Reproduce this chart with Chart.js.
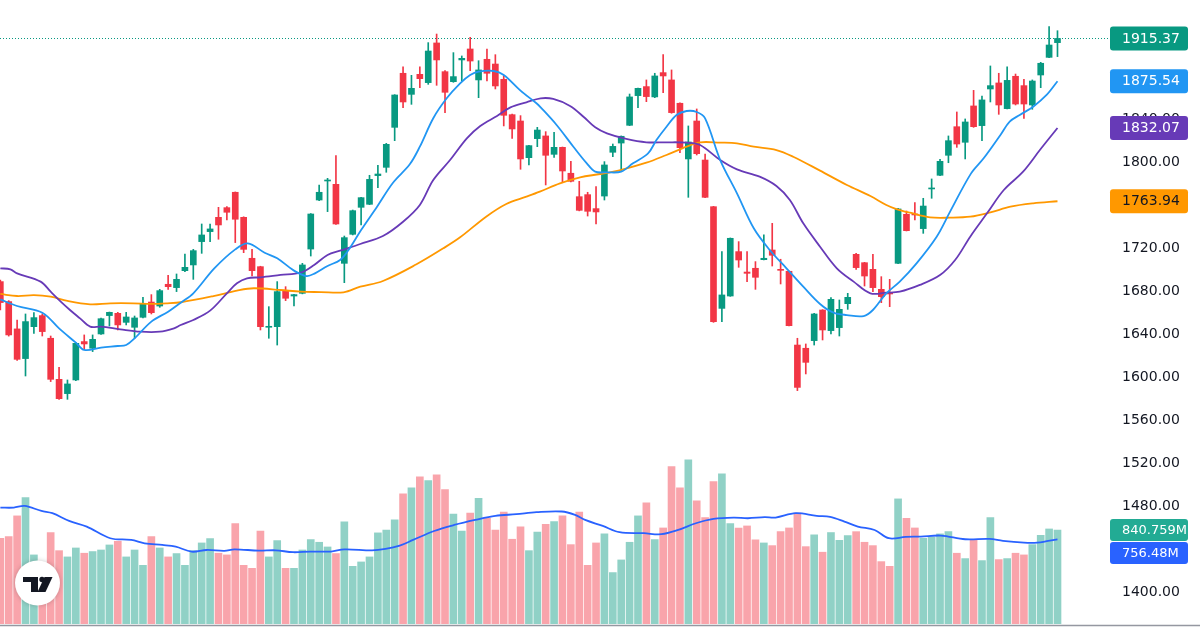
<!DOCTYPE html>
<html>
<head>
<meta charset="utf-8">
<script src="https://cdn.jsdelivr.net/npm/chart.js@4.4.1/dist/chart.umd.min.js"></script>
<style>
  html, body { margin: 0; padding: 0; background: #fff; }
</style>
</head>
<body>
<canvas id="chart" width="1200" height="630"></canvas>
<script>
// daily candles, oldest first
const opens = [1689.2,1670.6,1645.2,1617.6,1647.3,1657.6,1636.5,1598.3,1585.0,1597.7,
  1633.4,1627.2,1640.5,1657.6,1659.7,1651.3,1646.7,1656.0,1670.2,1666.5,
  1686.7,1683.6,1699.4,1704.7,1726.4,1735.7,1749.0,1758.0,1772.3,1749.0,
  1710.9,1703.1,1646.7,1647.3,1680.8,1675.8,1678.3,1719.5,1765.1,1782.8,
  1779.7,1706.2,1733.2,1758.3,1761.1,1787.8,1795.5,1832.7,1883.0,1863.4,
  1882.0,1874.3,1911.2,1884.5,1875.2,1895.4,1905.6,1876.8,1896.0,1891.6,
  1877.4,1844.5,1838.6,1804.5,1822.2,1824.7,1807.6,1814.1,1790.0,1768.2,
  1770.1,1757.1,1768.8,1809.5,1818.1,1834.6,1862.2,1870.6,1861.0,1883.6,
  1876.8,1855.1,1803.3,1838.6,1802.3,1758.9,1664.3,1675.8,1717.1,1698.1,
  1701.6,1709.6,1718.6,1700.6,1698.8,1630.2,1627.2,1634.3,1662.8,1643.6,
  1646.4,1668.7,1714.6,1706.8,1700.6,1682.0,1678.3,1706.2,1751.8,1752.1,
  1738.5,1775.4,1788.1,1806.7,1833.3,1818.8,1852.6,1834.3,1868.4,1874.0,
  1850.1,1880.2,1871.5,1853.5,1881.4,1897.8,1911.5];
const highs = [1690.7,1671.5,1653.5,1659.1,1660.3,1659.1,1638.6,1609.5,1597.7,1632.4,
  1639.6,1639.6,1655.3,1660.9,1660.6,1660.6,1657.2,1674.6,1677.1,1682.0,
  1695.0,1696.3,1714.9,1719.2,1742.8,1742.8,1758.3,1758.9,1772.6,1749.5,
  1719.2,1703.5,1665.9,1689.2,1684.5,1677.3,1706.2,1752.5,1779.1,1785.3,
  1806.4,1731.6,1755.8,1767.6,1788.1,1797.4,1817.8,1863.1,1888.9,1881.1,
  1888.9,1911.5,1919.5,1885.4,1902.2,1899.1,1916.4,1894.7,1905.6,1900.3,
  1880.8,1845.1,1843.6,1815.9,1832.7,1828.7,1828.1,1814.4,1801.1,1782.5,
  1772.3,1777.5,1800.8,1817.2,1824.7,1863.7,1869.3,1876.8,1883.0,1900.3,
  1886.1,1855.4,1834.0,1849.8,1807.9,1759.2,1717.1,1729.8,1726.4,1717.1,
  1707.8,1732.6,1743.4,1710.0,1699.1,1636.5,1631.2,1659.7,1663.1,1674.3,
  1672.1,1678.3,1715.5,1707.1,1714.6,1693.8,1691.3,1757.4,1754.9,1762.6,
  1766.7,1784.7,1803.0,1824.7,1847.0,1840.5,1867.1,1861.9,1889.8,1883.0,
  1888.9,1882.3,1877.4,1876.8,1893.2,1926.4,1922.6];
const lows = [1662.8,1638.5,1615.9,1601.4,1641.1,1638.6,1596.2,1579.5,1579.7,1597.1,
  1626.2,1624.1,1640.0,1647.9,1644.2,1648.9,1636.5,1655.5,1659.1,1665.3,
  1682.0,1679.9,1698.5,1691.3,1715.5,1726.4,1728.6,1746.5,1725.5,1716.1,
  1694.4,1644.2,1636.5,1630.2,1671.5,1666.5,1677.8,1713.0,1764.6,1754.3,
  1742.3,1688.2,1732.6,1741.9,1760.8,1776.6,1790.9,1820.3,1851.0,1854.1,
  1869.6,1872.7,1871.8,1846.4,1874.6,1875.8,1885.4,1860.3,1875.8,1868.4,
  1834.0,1822.5,1793.7,1797.7,1814.7,1779.1,1804.8,1781.2,1781.9,1755.0,
  1750.2,1742.8,1765.1,1805.4,1792.4,1834.3,1851.0,1856.6,1860.3,1865.0,
  1845.8,1809.2,1767.6,1807.0,1767.3,1651.3,1651.9,1675.5,1702.5,1689.2,
  1682.0,1709.3,1703.7,1687.0,1647.9,1587.8,1603.3,1630.2,1634.9,1640.5,
  1638.6,1663.4,1700.6,1685.1,1679.9,1669.6,1665.9,1705.9,1736.3,1746.5,
  1734.1,1766.7,1787.8,1799.8,1814.1,1803.3,1832.7,1820.3,1856.3,1844.8,
  1849.8,1853.5,1841.1,1849.5,1869.6,1897.5,1898.5];
const closes = [1669.7,1639.6,1616.9,1652.0,1655.7,1642.7,1598.3,1580.3,1594.0,1631.8,
  1631.2,1635.5,1654.7,1660.6,1648.9,1656.3,1655.4,1668.4,1660.3,1680.8,
  1684.5,1691.3,1702.5,1718.0,1732.6,1738.2,1741.9,1753.7,1747.2,1719.2,
  1699.4,1647.3,1647.3,1679.9,1673.7,1677.1,1704.7,1752.1,1772.3,1783.7,
  1742.8,1730.1,1755.2,1767.3,1784.3,1789.3,1816.9,1862.8,1856.3,1869.0,
  1878.0,1903.7,1895.4,1865.3,1879.9,1896.9,1894.4,1886.1,1883.0,1871.2,
  1843.9,1831.2,1803.3,1815.7,1830.2,1806.7,1814.1,1792.1,1782.5,1755.5,
  1754.6,1754.0,1797.7,1815.0,1824.4,1861.0,1869.0,1861.3,1880.5,1880.5,
  1846.4,1813.8,1819.1,1808.2,1767.6,1651.9,1676.8,1729.5,1709.3,1696.9,
  1693.2,1710.9,1713.7,1699.7,1648.2,1590.8,1614.1,1659.1,1644.2,1672.7,
  1663.4,1674.6,1702.2,1694.4,1683.6,1675.2,1677.7,1756.8,1736.6,1751.2,
  1759.5,1776.3,1801.1,1820.3,1817.2,1837.7,1833.3,1858.2,1871.5,1853.5,
  1876.4,1854.4,1854.4,1875.8,1892.3,1909.3,1915.37];
// volume in millions
const volumes = [767,782,967,1131,618,540,818,656,600,680,
  633,648,662,707,740,600,662,525,782,680,
  600,630,525,656,725,764,633,618,898,525,
  498,832,600,746,498,498,662,755,731,689,
  630,913,516,555,600,815,841,931,1164,1217,
  1316,1283,1334,1202,982,832,991,1125,946,841,
  1000,758,868,656,823,892,916,967,710,1000,
  525,725,806,460,573,731,967,1083,755,859,
  1408,1217,1468,1101,952,1274,1343,898,859,877,
  752,725,701,826,859,991,692,797,642,818,
  749,791,826,731,701,558,516,1119,946,859,
  767,776,806,826,633,585,758,567,952,576,
  585,633,618,710,794,850,840.759];

// moving averages: [bar index, value]
const maFast = [[0,1672.7],[2,1666.5],[5,1660.3],[7,1645.7],[9,1632.4],[10,1625.6],[12,1627.7],[14,1629.3],[15,1630.2],[16,1636.4],
  [18,1652.0],[20,1661.2],[21.5,1669.6],[23,1678.3],[25.5,1701.5],[28,1719.2],[29.5,1724.8],[31.5,1716.1],[33,1710.9],[35,1699.4],
  [36.5,1694.4],[37.5,1696.9],[39,1703.7],[40.5,1709.3],[41.5,1718.6],[43,1737.2],[44.9,1758.9],[46.8,1781.2],[48.8,1798.3],[50,1814.7],
  [51.6,1841.2],[53.2,1859.7],[54.8,1873.6],[56,1881.4],[57,1884.5],[58.8,1885.1],[60,1881.4],[62,1866.8],[63.9,1855.1],[64.4,1851.3],
  [66.3,1834.9],[68.3,1814.7],[69.9,1799.2],[70.9,1791.5],[72.3,1790.9],[74,1791.5],[75.4,1799.2],[77.2,1808.5],[78.2,1820.9],[79.4,1833.3],
  [80.6,1844.2],[81.8,1847.9],[83,1847.0],[84,1841.1],[85.8,1802.3],[87.8,1771.3],[89.8,1738.8],[91.7,1718.6],[93.7,1701.6],[95.7,1684.5],
  [97.7,1668.4],[99.3,1660.3],[100.9,1658.1],[102.9,1657.2],[104,1662.8],[105.6,1678.3],[107.2,1689.2],[109.2,1706.2],[111.6,1731.0],[113.2,1754.3],
  [115.7,1789.9],[117.2,1803.9],[119.2,1825.6],[120.3,1838.0],[121.5,1844.2],[123.1,1851.9],[124.7,1862.8],[126,1875.54]];
const maMid = [[0,1701.6],[1.2,1700.6],[2,1696.9],[4.8,1689.2],[6,1679.8],[7.2,1670.6],[8.3,1662.8],[9.5,1655.0],[10.7,1647.3],[12,1647.3],
  [14.3,1644.8],[16.7,1642.6],[19,1642.6],[20.7,1645.7],[21.5,1648.8],[23,1653.5],[25,1662.2],[27,1678.3],[28.2,1687.6],[29.4,1692.3],
  [31,1693.2],[33.4,1695.4],[35.8,1697.5],[37.4,1704.7],[39,1714.0],[40.5,1718.0],[42.9,1724.2],[45.6,1731.6],[48,1744.9],[50,1760.5],
  [51.6,1783.7],[53.6,1802.3],[55.6,1822.5],[57.2,1834.0],[59.2,1843.3],[60.8,1851.3],[62.7,1856.0],[64.4,1859.7],[65.9,1859.1],[67.9,1852.6],
  [69.5,1842.6],[70.9,1832.7],[72.3,1827.1],[74.6,1821.9],[77,1818.8],[79.4,1818.8],[81.8,1818.5],[83.4,1816.3],[85.8,1802.3],[87.8,1793.6],
  [90.5,1786.8],[92.5,1778.1],[94.1,1765.1],[95.7,1743.4],[97.7,1721.7],[99.7,1701.6],[101.7,1689.2],[103.7,1678.3],[105.6,1678.9],[107.2,1679.8],
  [109.6,1686.1],[112,1695.3],[113.8,1709.3],[115.6,1731.0],[117.6,1752.7],[119.6,1774.4],[121.9,1791.5],[123.9,1811.6],[126,1832.07]];
const maSlow = [[0,1677.7],[2,1675.8],[4,1676.7],[6,1675.2],[8,1671.2],[10.7,1668.1],[13.1,1669.0],[15.9,1669.0],[17.9,1668.4],[19.9,1669.0],
  [21.5,1670.0],[25.4,1675.8],[28.2,1680.8],[30.2,1683.0],[33.4,1681.4],[35.8,1679.8],[38.2,1679.5],[40.9,1679.2],[42.9,1684.5],[45.6,1689.8],
  [49.6,1705.3],[52.8,1720.2],[54.8,1730.4],[57.9,1749.6],[60.3,1761.4],[62.7,1768.2],[64.3,1772.9],[66.7,1780.6],[69.1,1786.2],[71.5,1789.3],
  [73.9,1793.0],[77,1799.8],[79.4,1807.0],[81.8,1814.7],[83.4,1818.8],[85.8,1818.5],[87.8,1817.8],[89.8,1814.7],[92.5,1811.6],[94.5,1805.4],
  [97.7,1792.4],[100.9,1779.1],[103.7,1768.8],[105.6,1760.5],[106.8,1756.7],[108.4,1753.3],[110.8,1749.0],[113.2,1748.7],[115.6,1749.6],[118,1753.6],
  [120.4,1758.9],[123.1,1762.0],[126,1763.94]];
const volMa = [[0,1041],[1.6,1041],[2.9,1056],[4.9,1011],[6.2,991],[8.2,922],[10.3,871],[13.1,767],[15.6,752],[17.2,722],
  [19.3,707],[20.9,692],[22.8,647],[24.6,662],[26.7,654],[27.9,668],[30.8,656],[32.8,659],[34.9,642],[36.9,648],
  [39.4,648],[41,668],[44.3,659],[45.9,671],[47.6,701],[49.2,752],[51.7,832],[54.1,886],[56.6,931],[59,967],
  [61.5,982],[63.9,1000],[66.9,1006],[68.5,976],[69.7,931],[71.8,877],[73.8,821],[76.7,812],[78.8,803],[80.8,841],
  [82.9,901],[85,940],[87.4,952],[89.1,946],[91.1,955],[92.4,952],[94.8,991],[97.3,967],[98.9,958],[100.6,916],
  [102.2,871],[104.2,841],[105.9,767],[107.9,779],[109.7,782],[112.1,791],[115,758],[117.9,761],[119.5,743],[122,728],
  [123.6,728],[124.9,743],[126,756.48]];

const priceTicks = [1400,1440,1480,1520,1560,1600,1640,1680,1720,1760,1800,1840,1880,1920];

const UP = '#089981';
const DOWN = '#F23645';
const UP_VOL = 'rgba(8,153,129,0.45)';
const DOWN_VOL = 'rgba(242,54,69,0.45)';
const FONT = 'DejaVu Sans';

const isUp = opens.map((o, i) => closes[i] >= o);
const pts = arr => arr.map(p => ({ x: p[0], y: p[1] }));

function labelBox(ctx, y, text, bg, fg, h, size) {
  ctx.fillStyle = bg;
  ctx.beginPath();
  if (ctx.roundRect) ctx.roundRect(1110, y - h / 2, 78, h, 3);
  else ctx.rect(1110, y - h / 2, 78, h);
  ctx.fill();
  ctx.fillStyle = fg;
  ctx.font = size + 'px "' + FONT + '"';
  ctx.textAlign = 'left';
  ctx.textBaseline = 'middle';
  ctx.fillText(text, 1122, y + 0.5);
}

const overlay = {
  id: 'overlay',
  afterDraw(chart) {
    const { ctx, chartArea: a, scales } = chart;
    const y = scales.y, yv = scales.yVol;
    const last = closes.length - 1;
    ctx.save();

    // last price line
    const py = Math.round(y.getPixelForValue(closes[last])) + 0.5;
    ctx.strokeStyle = UP;
    ctx.lineWidth = 1;
    ctx.setLineDash([1, 2]);
    ctx.beginPath(); ctx.moveTo(0, py); ctx.lineTo(a.right, py); ctx.stroke();
    ctx.setLineDash([]);

    // bottom border
    ctx.strokeStyle = '#9598a1';
    ctx.lineWidth = 1.5;
    ctx.beginPath(); ctx.moveTo(0, 625.5); ctx.lineTo(1200, 625.5); ctx.stroke();

    // price axis labels
    labelBox(ctx, y.getPixelForValue(closes[last]), closes[last].toFixed(2), UP, '#fff', 24, 14);
    labelBox(ctx, y.getPixelForValue(maFast[maFast.length - 1][1]), maFast[maFast.length - 1][1].toFixed(2), '#2196F3', '#fff', 24, 14);
    labelBox(ctx, y.getPixelForValue(maMid[maMid.length - 1][1]), maMid[maMid.length - 1][1].toFixed(2), '#673AB7', '#fff', 24, 14);
    labelBox(ctx, y.getPixelForValue(maSlow[maSlow.length - 1][1]), maSlow[maSlow.length - 1][1].toFixed(2), '#FF9800', '#131722', 24, 14);

    // volume labels, stacked when they touch
    const v1 = yv.getPixelForValue(volumes[last]);
    let v2 = yv.getPixelForValue(volMa[volMa.length - 1][1]);
    if (v2 < v1 + 23) v2 = v1 + 23;
    labelBox(ctx, v1, volumes[last] + 'M', '#22AB94', '#fff', 22, 13);
    labelBox(ctx, v2, volMa[volMa.length - 1][1].toFixed(2) + 'M', '#2962FF', '#fff', 22, 13);

    // logo badge
    ctx.save();
    ctx.shadowColor = 'rgba(0,0,0,0.22)';
    ctx.shadowBlur = 5;
    ctx.fillStyle = '#fff';
    ctx.beginPath(); ctx.arc(37.5, 583, 22.5, 0, Math.PI * 2); ctx.fill();
    ctx.restore();
    ctx.fillStyle = '#131722';
    ctx.fillRect(23, 577, 15, 5);
    ctx.fillRect(31, 577, 7, 15);
    ctx.beginPath(); ctx.arc(42, 579.5, 2.7, 0, Math.PI * 2); ctx.fill();
    ctx.beginPath();
    ctx.moveTo(44.5, 577); ctx.lineTo(52.5, 577); ctx.lineTo(45.5, 592); ctx.lineTo(37.5, 592);
    ctx.closePath(); ctx.fill();

    ctx.restore();
  }
};

new Chart(document.getElementById('chart'), {
  type: 'bar',
  data: {
    datasets: [
      { type: 'line', data: pts(maFast), borderColor: '#2196F3', borderWidth: 1.8, pointRadius: 0, tension: 0.35, yAxisID: 'y', order: 0 },
      { type: 'line', data: pts(maMid), borderColor: '#673AB7', borderWidth: 1.8, pointRadius: 0, tension: 0.35, yAxisID: 'y', order: 0 },
      { type: 'line', data: pts(maSlow), borderColor: '#FF9800', borderWidth: 1.8, pointRadius: 0, tension: 0.35, yAxisID: 'y', order: 0 },
      { data: opens.map((o, i) => ({ x: i, y: [Math.min(o, closes[i]), Math.max(o, closes[i])] })),
        backgroundColor: isUp.map(u => u ? UP : DOWN), barThickness: 6, minBarLength: 1,
        grouped: false, yAxisID: 'y', order: 1 },
      { data: highs.map((h, i) => ({ x: i, y: [lows[i], h] })),
        backgroundColor: isUp.map(u => u ? UP : DOWN), barThickness: 1,
        grouped: false, yAxisID: 'y', order: 2 },
      { type: 'line', data: pts(volMa), borderColor: '#2962FF', borderWidth: 1.8, pointRadius: 0, tension: 0.35, yAxisID: 'yVol', order: 3 },
      { data: volumes.map((v, i) => ({ x: i, y: v })),
        backgroundColor: isUp.map(u => u ? UP_VOL : DOWN_VOL), barThickness: 7,
        grouped: false, yAxisID: 'yVol', order: 4 }
    ]
  },
  options: {
    responsive: false,
    devicePixelRatio: 1,
    animation: false,
    layout: { padding: { top: 0, left: 0, right: 0, bottom: 6 } },
    plugins: { legend: { display: false }, tooltip: { enabled: false } },
    scales: {
      x: { type: 'linear', min: -0.04, max: 132.02, offset: false, display: false },
      y: {
        position: 'right', min: 1370.7, max: 1951.16,
        grid: { display: false, drawTicks: false },
        border: { display: false },
        ticks: { padding: 14, color: '#131722', autoSkip: false,
          font: { family: FONT, size: 14 }, callback: v => Number(v).toFixed(2) },
        afterBuildTicks: s => { s.ticks = priceTicks.map(v => ({ value: v })); },
        afterFit: s => { s.width = 92; s.paddingTop = 0; s.paddingBottom = 0; }
      },
      yVol: { display: false, min: 0, max: 5581 }
    }
  },
  plugins: [overlay]
});
</script>
</body>
</html>
